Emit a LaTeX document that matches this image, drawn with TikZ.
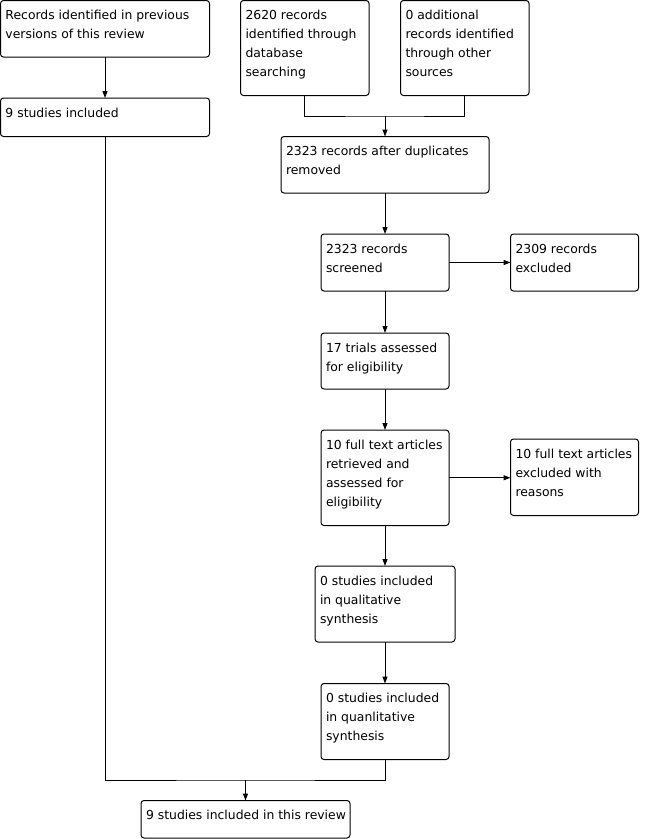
\documentclass[tikz,border=0pt]{standalone}
\usepackage{fontspec}
\setmainfont{DejaVu Sans}
\usetikzlibrary{arrows.meta}
\newcommand\bxt[3]{\parbox[c][#2pt][t]{#1pt}{\raggedright\leftskip=5pt\rule{0pt}{19pt}#3}}
\begin{document}
\begin{tikzpicture}[x=1pt,y=-1pt,
  bx/.style={draw, line width=1pt, rounded corners=3pt, inner sep=0pt, outer sep=0pt, anchor=north west, font=\fontsize{12.4}{19}\selectfont},
  arr/.style={line width=1pt, -{Triangle[length=7pt,width=5pt]}},
  ln/.style={line width=1pt}]
\useasboundingbox (0,0) rectangle (649,839);
\node[bx] (a) at (0.5,0.5) {\bxt{209}{56.5}{Records identified in previous\\versions of this review}};
\node[bx] (b) at (240.5,0.5) {\bxt{128.5}{95}{2620 records\\identified through\\database\\searching}};
\node[bx] (c) at (400.5,0.5) {\bxt{128.5}{95}{0 additional\\records identified\\through other\\sources}};
\node[bx] (d) at (0.5,98) {\bxt{209}{38.5}{9 studies included}};
\node[bx] (e) at (281,136.5) {\bxt{208}{56.5}{2323 records after duplicates\\removed}};
\node[bx] (f) at (321,234) {\bxt{128}{57}{2323 records\\screened}};
\node[bx] (g) at (510.5,234) {\bxt{128}{57}{2309 records\\excluded}};
\node[bx] (h) at (321,333) {\bxt{128}{56}{17 trials assessed\\for eligibility}};
\node[bx] (i) at (321,430) {\bxt{128}{95.5}{10 full text articles\\retrieved and\\assessed for\\eligibility}};
\node[bx] (j) at (510.5,439) {\bxt{128}{76.5}{10 full text articles\\excluded with\\reasons}};
\node[bx] (k) at (315,566) {\bxt{140}{76}{0 studies included\\in qualitative\\synthesis}};
\node[bx] (l) at (321,683.5) {\bxt{128}{76}{0 studies included\\in quanlitative\\synthesis}};
\node[bx] (m) at (141,800.5) {\bxt{209}{37.5}{9 studies included in this review}};
\coordinate (j1) at (385,116);
\coordinate (j2) at (245.5,780);
\draw[arr] (a) -- (d);
\draw[ln] (b.south) |- (j1) -| (c.south);
\draw[arr] (j1) -- (e.north);
\draw[arr] (e) -- (f);
\draw[arr] (f) -- (g);
\draw[arr] (f) -- (h);
\draw[arr] (h) -- (i);
\draw[arr] (i.east) -- (i.east -| j.west);
\draw[arr] (i) -- (k);
\draw[arr] (k) -- (l);
\draw[ln] (d.south) |- (j2) -| (l.south);
\draw[arr] (j2) -- (m.north);
\end{tikzpicture}
\end{document}
